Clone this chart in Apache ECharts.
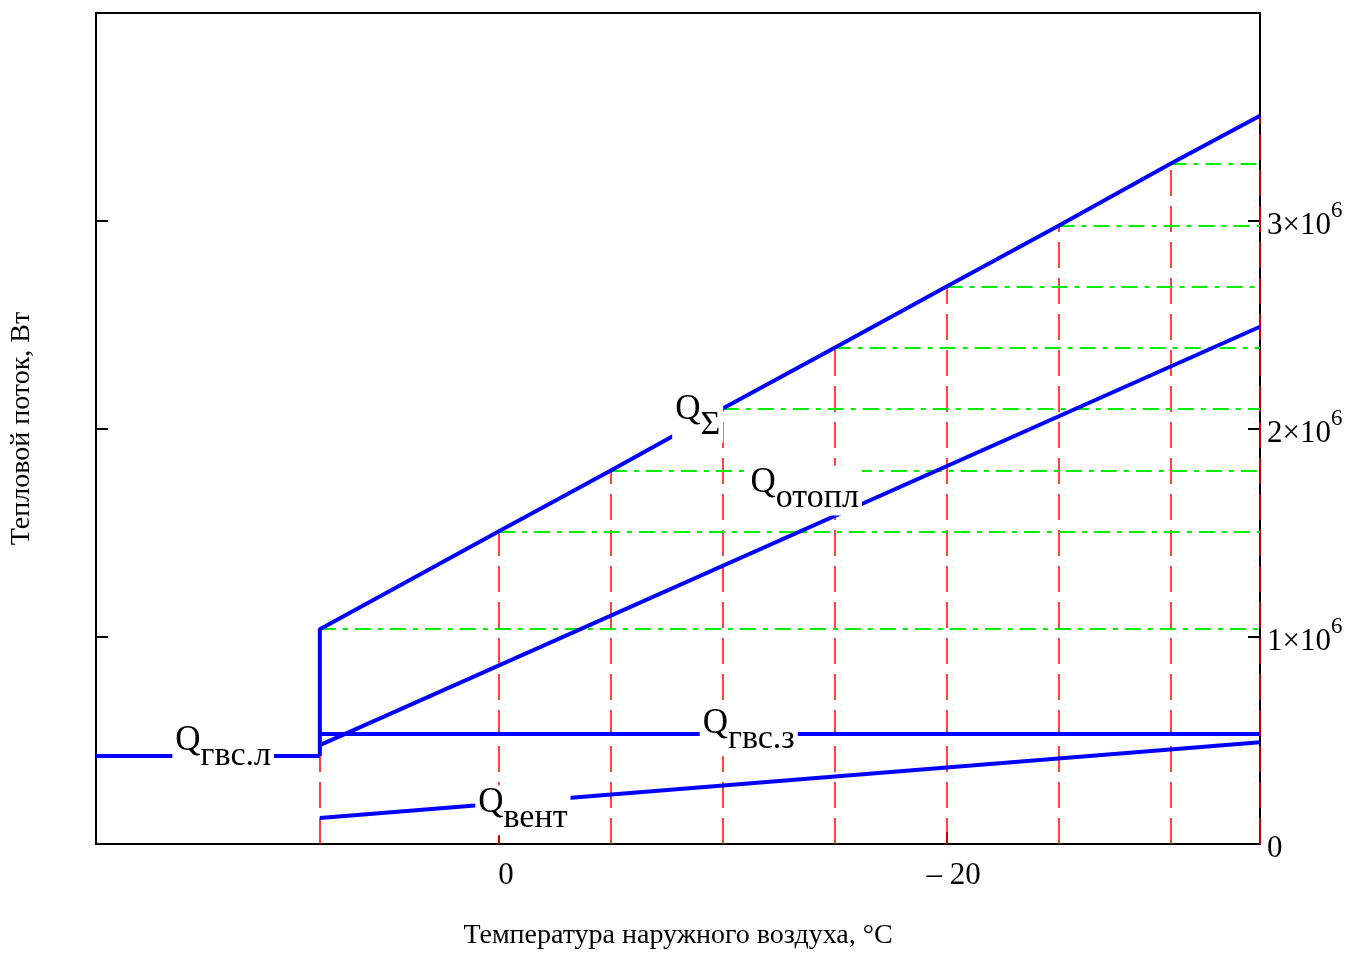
<!DOCTYPE html>
<html>
<head>
<meta charset="utf-8">
<script src="https://cdn.jsdelivr.net/npm/echarts@6/dist/echarts.min.js"></script>
<style>
  html, body { margin: 0; padding: 0; background: #fff; }
  #chart { width: 1350px; height: 953px; }
</style>
</head>
<body>
<div id="chart"></div>
<script>
// outdoor temperature points where the drop lines are drawn, °C
const temps = [8, 0, -5, -10, -15, -20, -25, -30, -34]
// total heat load at those temperatures, W
const qSum = [1.034e6, 1.505e6, 1.798e6, 2.096e6, 2.389e6, 2.683e6, 2.976e6, 3.274e6, 3.505e6]

// summer DHW (outside heating season)
const summerTemps = [18, 8]
const qDhwSummer = [0.423e6, 0.423e6]

// heating season components
const winterTemps = [8, -34]
const qHeat = [0.476e6, 2.49e6]
const qVent = [0.125e6, 0.49e6]
const qDhwWinter = [0.529e6, 0.529e6]

const xTickValues = [0, -20]
const yTickValues = [0, 1e6, 2e6, 3e6]

const FONT = 'Liberation Serif'
const xMin = -34
const xMax = 18

// label anchors (data coords), text placed over the lines with white box
const labelSpots = [
  { sub: 'Σ', at: [-8.88, 2.053e6] },
  { sub: 'отопл', at: [-13.66, 1.702e6] },
  { sub: 'гвс.з', at: [-11.16, 0.543e6] },
  { sub: 'вент', at: [-1.07, 0.163e6] },
  { sub: 'гвс.л', at: [12.32, 0.462e6] }
]

function pairs(xs, ys) {
  return xs.map((x, i) => [x, ys[i]])
}

const dropLines = temps.map((t, i) => ({ coords: [[t, 0], [t, qSum[i]]] }))
const levelLines = temps.map((t, i) => ({ coords: [[t, qSum[i]], [xMin, qSum[i]]] }))

const blue = { color: '#0000ff', width: 4 }

const chart = echarts.init(document.getElementById('chart'))
chart.setOption({
  animation: false,
  backgroundColor: '#fff',
  grid: {
    left: 96, right: 90, top: 13, bottom: 109,
    containLabel: false,
    outerBoundsMode: 'none',
    show: true, borderColor: '#000', borderWidth: 2, backgroundColor: 'transparent'
  },
  xAxis: {
    type: 'value',
    min: xMin,
    max: xMax,
    inverse: true,
    name: 'Температура наружного воздуха, °C',
    nameLocation: 'middle',
    nameGap: 78,
    nameTextStyle: { fontFamily: FONT, fontSize: 28, color: '#000' },
    axisLine: { show: true, onZero: false, lineStyle: { color: '#000', width: 2 } },
    axisTick: { show: true, inside: true, length: 12, customValues: xTickValues, lineStyle: { color: '#000', width: 2 } },
    axisLabel: {
      customValues: xTickValues,
      margin: 16,
      padding: [0, 0, 0, 14],
      fontFamily: FONT,
      fontSize: 31,
      color: '#000',
      formatter(v) {
        return v < 0 ? '– ' + (-v) : String(v)
      }
    },
    splitLine: { show: false }
  },
  yAxis: [
    {
      type: 'value',
      position: 'left',
      min: 0,
      max: 4e6,
      interval: 1e6,
      name: 'Тепловой поток, Вт',
      nameLocation: 'middle',
      nameGap: 60,
      nameTextStyle: { fontFamily: FONT, fontSize: 28, color: '#000' },
      axisLine: { show: true, onZero: false, lineStyle: { color: '#000', width: 2 } },
      axisTick: { show: true, inside: true, length: 12, lineStyle: { color: '#000', width: 2 } },
      axisLabel: { show: false },
      splitLine: { show: false }
    },
    {
      type: 'value',
      position: 'right',
      min: 0,
      max: 4e6,
      interval: 1e6,
      axisLine: { show: true, onZero: false, lineStyle: { color: '#000', width: 2 } },
      axisTick: { show: true, inside: true, length: 12, customValues: yTickValues, lineStyle: { color: '#000', width: 2 } },
      axisLabel: {
        customValues: yTickValues,
        margin: 7,
        color: '#000',
        formatter(v) {
          if (v === 0) return '{z|0}'
          return '{a|' + v / 1e6 + '×10}{b|6}'
        },
        rich: {
          z: { fontFamily: FONT, fontSize: 31, color: '#000', padding: [10, 0, 0, 0] },
          a: { fontFamily: FONT, fontSize: 31, color: '#000', lineHeight: 42, verticalAlign: 'bottom' },
          b: { fontFamily: FONT, fontSize: 23, color: '#000', lineHeight: 42, verticalAlign: 'top' }
        }
      },
      splitLine: { show: false }
    }
  ],
  series: [
    {
      type: 'lines',
      coordinateSystem: 'cartesian2d',
      data: dropLines,
      silent: true,
      lineStyle: { color: '#ff0000', width: 1.5, type: [26, 10], opacity: 1 }
    },
    {
      type: 'lines',
      coordinateSystem: 'cartesian2d',
      data: levelLines,
      silent: true,
      lineStyle: { color: '#00ee00', width: 2, type: [16, 7, 5, 7], opacity: 1 }
    },
    {
      name: 'Qгвс.л',
      type: 'line',
      data: pairs(summerTemps, qDhwSummer),
      showSymbol: false,
      lineStyle: blue
    },
    {
      name: 'QΣ',
      type: 'line',
      data: [[summerTemps[1], qDhwSummer[1]]].concat(pairs(temps, qSum)),
      showSymbol: false,
      lineStyle: blue
    },
    {
      name: 'Qотопл',
      type: 'line',
      data: pairs(winterTemps, qHeat),
      showSymbol: false,
      lineStyle: blue
    },
    {
      name: 'Qгвс.з',
      type: 'line',
      data: pairs(winterTemps, qDhwWinter),
      showSymbol: false,
      lineStyle: blue
    },
    {
      name: 'Qвент',
      type: 'line',
      data: pairs(winterTemps, qVent),
      showSymbol: false,
      lineStyle: blue
    },
    {
      type: 'scatter',
      z: 10,
      symbolSize: 0,
      silent: true,
      itemStyle: { opacity: 1 },
      data: labelSpots.map(l => ({ value: l.at })),
      label: {
        show: true,
        position: 'inside',
        opacity: 1,
        backgroundColor: '#fff',
        padding: [0, 3, 0, 3],
        formatter(p) {
          return '{q|Q}{s|' + labelSpots[p.dataIndex].sub + '}'
        },
        rich: {
          q: { fontFamily: FONT, fontSize: 35, color: '#000', lineHeight: 50, verticalAlign: 'top' },
          s: { fontFamily: FONT, fontSize: 34, color: '#000', lineHeight: 50, verticalAlign: 'bottom' }
        }
      }
    }
  ]
})
</script>
</body>
</html>
